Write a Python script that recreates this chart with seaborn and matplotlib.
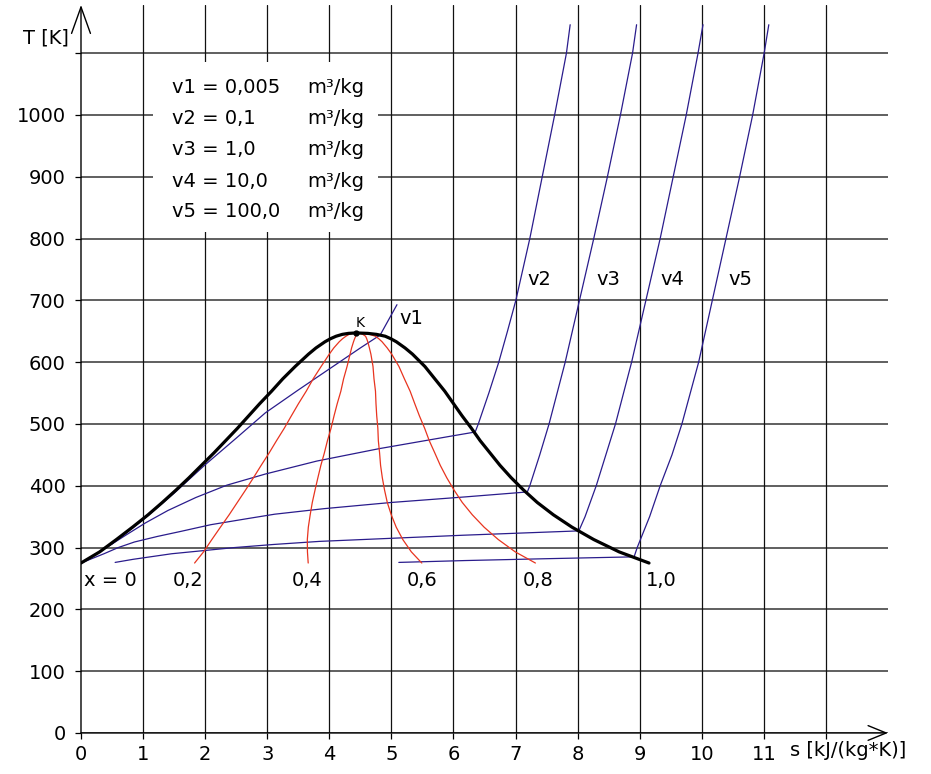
"""T-s Diagramm fuer Wasser mit Isochoren und Linien konstanten Dampfgehalts."""

import matplotlib
matplotlib.use("Agg")
import matplotlib.pyplot as plt
from matplotlib.patches import Rectangle
import numpy as np
import seaborn as sns

# Saettigungslinie: T [K], s' und s'' [kJ/(kg*K)]
T_sat = [275, 293, 313, 333, 353, 373, 393, 413, 433, 453, 473, 493, 513,
         533, 553, 573, 593, 613, 623, 633, 638, 642, 645, 646.6, 647.3]
s_liq = [0.00, 0.30, 0.57, 0.83, 1.08, 1.31, 1.53, 1.74, 1.94, 2.14, 2.33, 2.52,
         2.70, 2.88, 3.07, 3.25, 3.45, 3.665, 3.785, 3.93, 4.02, 4.11, 4.21, 4.31, 4.43]
s_vap = [9.15, 8.67, 8.26, 7.91, 7.61, 7.35, 7.13, 6.93, 6.75, 6.59, 6.43, 6.29,
         6.14, 6.00, 5.86, 5.70, 5.54, 5.34, 5.22, 5.08, 4.99, 4.90, 4.76, 4.62, 4.43]

# Dampfgehalt x
qualities = [0.2, 0.4, 0.6, 0.8]
quality_labels = ["x = 0", "0,2", "0,4", "0,6", "0,8", "1,0"]
quality_label_s = [0.48, 1.72, 3.65, 5.50, 7.37, 9.35]

# Isochoren (s, T)
v1_s = [0.0, 0.5, 1.0, 1.5, 2.0, 2.5, 2.97, 3.5, 4.0, 4.5, 4.82, 5.09]
v1_T = [275, 306, 345, 388, 434, 477, 518, 555, 589, 623, 644, 693]
v2_s = [0.0, 0.41, 0.72, 1.04, 1.40, 1.85, 2.35, 2.97, 3.8, 4.8, 6.0, 6.35,
        6.40, 6.57, 6.73, 6.87, 7.005, 7.23, 7.43, 7.63, 7.82, 7.88]
v2_T = [275, 300, 320, 340, 360, 381, 401, 419, 440, 460, 481, 487,
        500, 550, 600, 650, 700, 800, 900, 1000, 1100, 1146]
v3_s = [0.0, 0.37, 0.60, 0.86, 1.23, 1.6, 2.09, 2.69, 3.12, 3.92, 5.0, 6.19, 7.19,
        7.23, 7.39, 7.54, 7.80, 8.03, 8.26, 8.48, 8.69, 8.885, 8.95]
v3_T = [275, 290, 300, 309, 318, 326, 337, 347, 354, 363, 373, 382, 390,
        400, 450, 500, 600, 700, 800, 900, 1000, 1100, 1146]
v4_s = [0.55, 0.84, 1.46, 2.47, 3.1, 3.84, 5.0, 6.16, 8.02, 8.12, 8.30, 8.61,
        8.87, 9.10, 9.33, 9.54, 9.75, 9.94, 10.02]
v4_T = [276, 281, 290, 300, 305, 310, 315, 320, 327, 350, 400, 500,
        600, 700, 800, 900, 1000, 1100, 1146]
v5_s = [5.12, 6.19, 7.5, 8.91, 8.96, 9.16, 9.33, 9.52, 9.68, 9.95, 10.17, 10.39,
        10.61, 10.82, 11.005, 11.08]
v5_T = [276, 279, 282, 285, 300, 350, 400, 450, 500, 600, 700, 800,
        900, 1000, 1100, 1146]

iso_labels = ["v1", "v2", "v3", "v4", "v5"]
iso_label_s = [5.32, 7.39, 8.49, 9.53, 10.62]
iso_label_T = [671, 734, 734, 734, 734]

legend_names = ["v1 = 0,005", "v2 = 0,1", "v3 = 1,0", "v4 = 10,0", "v5 = 100,0"]
legend_T = [1044, 994, 944, 893, 843]

x_ticks = list(range(0, 13))
x_ticklabels = [str(t) for t in range(0, 12)] + [""]
y_ticks = list(range(0, 1200, 100))
y_ticklabels = [str(t) for t in range(0, 1100, 100)] + [""]

BLUE = "#2a1c8c"
RED = "#e8341f"
FS = 14

sns.set_theme(style="white")
plt.rcParams["font.family"] = ["DejaVu Sans"]
plt.rcParams["text.color"] = "black"
plt.rcParams["xtick.color"] = "black"
plt.rcParams["ytick.color"] = "black"

fig = plt.figure(figsize=(9.31, 7.74), dpi=100)
ax = fig.add_axes([0.0870, 0.053, 0.8668, 0.9406])
ax.set_xlim(0, 13)
ax.set_ylim(0, 1178)

# Gitter
for t in y_ticks:
    ax.axhline(t, color="#444444", lw=1.2, zorder=0.5)
for s in x_ticks[1:]:
    ax.axvline(s, color="#111111", lw=0.9, zorder=0.5)

# Isochoren
for xs, ys in [(v1_s, v1_T), (v2_s, v2_T), (v3_s, v3_T), (v4_s, v4_T), (v5_s, v5_T)]:
    sns.lineplot(x=xs, y=ys, sort=False, estimator=None, color=BLUE, lw=0.9, ax=ax, zorder=3)

# Linien konstanten Dampfgehalts
s_liq_a = np.array(s_liq)
s_vap_a = np.array(s_vap)
for q in qualities:
    sns.lineplot(x=s_liq_a + q * (s_vap_a - s_liq_a), y=T_sat, sort=False, estimator=None,
                 color=RED, lw=0.9, ax=ax, zorder=3)

# Grenzkurve
dome_s = s_liq + s_vap[::-1][1:]
dome_T = T_sat + T_sat[::-1][1:]
sns.lineplot(x=dome_s, y=dome_T, sort=False, estimator=None, color="black", lw=2.3, ax=ax, zorder=4)
ax.plot(s_liq[-1], T_sat[-1], "o", color="black", ms=3.5, zorder=5)
ax.text(4.5, 664, "K", fontsize=10, ha="center", va="center")

# Beschriftungen
for lab, s in zip(quality_labels, quality_label_s):
    ax.text(s, 247, lab, fontsize=FS, ha="center", va="center")
for lab, s, t in zip(iso_labels, iso_label_s, iso_label_T):
    ax.text(s, t, lab, fontsize=FS, ha="center", va="center")

ax.add_patch(Rectangle((1.16, 811), 3.63, 275, facecolor="white", edgecolor="none", zorder=1))
for name, t in zip(legend_names, legend_T):
    ax.text(1.47, t, name, fontsize=FS, ha="left", va="center", zorder=2)
    ax.text(3.65, t, "m³/kg", fontsize=FS, ha="left", va="center", zorder=2)

# Achsen
for sp in ax.spines.values():
    sp.set_visible(False)
ax.set_xticks(x_ticks)
ax.set_xticklabels(x_ticklabels)
ax.set_yticks(y_ticks)
ax.set_yticklabels(y_ticklabels)
ax.tick_params(axis="x", length=4.5, width=0.9, pad=4, labelsize=FS, color="black", direction="out",
               bottom=True, labelcolor="black")
ax.tick_params(axis="y", length=4, width=0.9, pad=7, labelsize=FS, color="black", direction="out",
               left=True, labelcolor="black")
ax.set_xlabel("")
ax.set_ylabel("")

ax.annotate("", xy=(1.0, 0.0), xytext=(0.0, 0.0), xycoords="axes fraction",
            arrowprops=dict(arrowstyle="->,head_length=1.3,head_width=0.53", color="black",
                            lw=1.0, mutation_scale=10, shrinkA=0, shrinkB=0), annotation_clip=False)
ax.annotate("", xy=(0.0, 1.0), xytext=(0.0, 0.0), xycoords="axes fraction",
            arrowprops=dict(arrowstyle="->,head_length=1.9,head_width=0.68", color="black",
                            lw=1.0, mutation_scale=10, shrinkA=0, shrinkB=0), annotation_clip=False)

ax.text(-0.044, 0.955, "T [K]", transform=ax.transAxes, fontsize=FS, ha="center", va="center")
ax.text(0.8786, -0.0234, "s [kJ/(kg*K)]", transform=ax.transAxes, fontsize=FS,
        ha="left", va="center")

fig.savefig("out.png", dpi=100)
